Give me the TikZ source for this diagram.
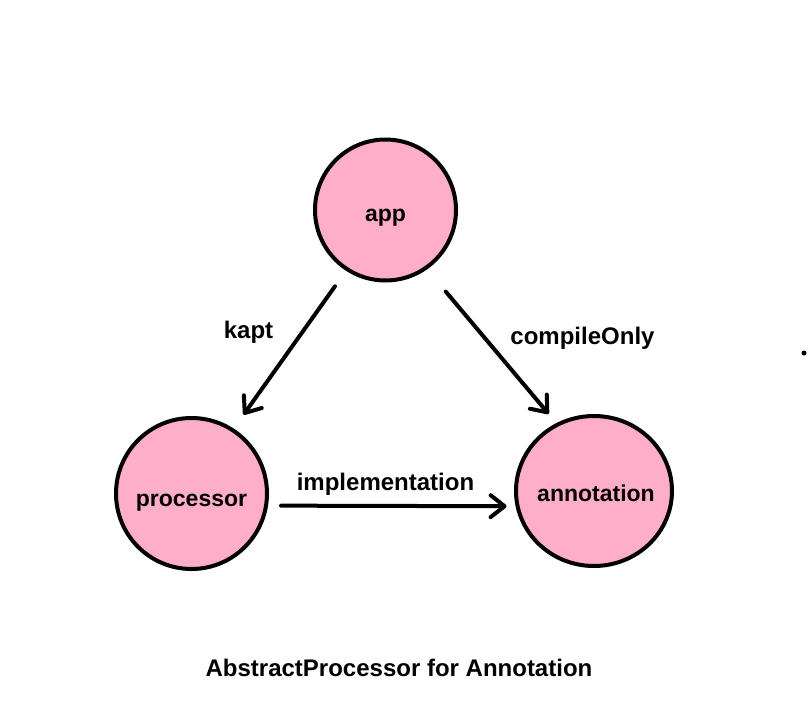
\documentclass[tikz,border=0pt]{standalone}
\usepackage{fontspec}
\setmainfont{Liberation Sans}
\usetikzlibrary{arrows.meta,shapes.geometric}
\definecolor{rose}{HTML}{FFAEC9}
\begin{document}
\begin{tikzpicture}[x=1pt,y=-1pt,
  state/.style={draw=black,line width=4pt,fill=rose,inner sep=0pt,text depth=0pt,
    font=\fontsize{23}{27}\selectfont\bfseries},
  lbl/.style={font=\fontsize{24}{28}\selectfont\bfseries,anchor=base,inner sep=0pt},
  link/.style={line width=4pt,line cap=round,-{Straight Barb[length=14pt,width=22pt,line cap=round,line join=round]}}]
\fill[white] (0,0) rectangle (812,718);
\useasboundingbox (0,0) rectangle (812,718);
\node[state,circle,minimum size=141pt,text height=22pt] (app) at (385.5,210) {app};
\node[state,circle,minimum size=151pt,text height=26pt] (processor) at (191.5,493.5) {processor};
\node[state,ellipse,minimum width=156pt,minimum height=150pt,text height=20pt] (annotation) at (594,491) {\makebox[0pt]{\hspace*{4pt}annotation}};
\draw[link,shorten <=19pt,shorten >=17pt] (app.237) -- (processor.57.5);
\draw[link,shorten <=29pt,shorten >=12pt] (app.305) -- (annotation.119.4);
\draw[link,shorten <=13pt,shorten >=9pt] (processor.-9.5) -- (annotation.191);
\node[lbl] (kapt) at (248.5,338) {kapt};
\node[lbl] (compileonly) at (582.5,344) {compileOnly};
\node[lbl] (impl) at (385.5,490) {implementation};
\node[lbl] (caption) at (399,676) {AbstractProcessor for Annotation};
\fill (804,353) circle (2.5pt);
\end{tikzpicture}
\end{document}
